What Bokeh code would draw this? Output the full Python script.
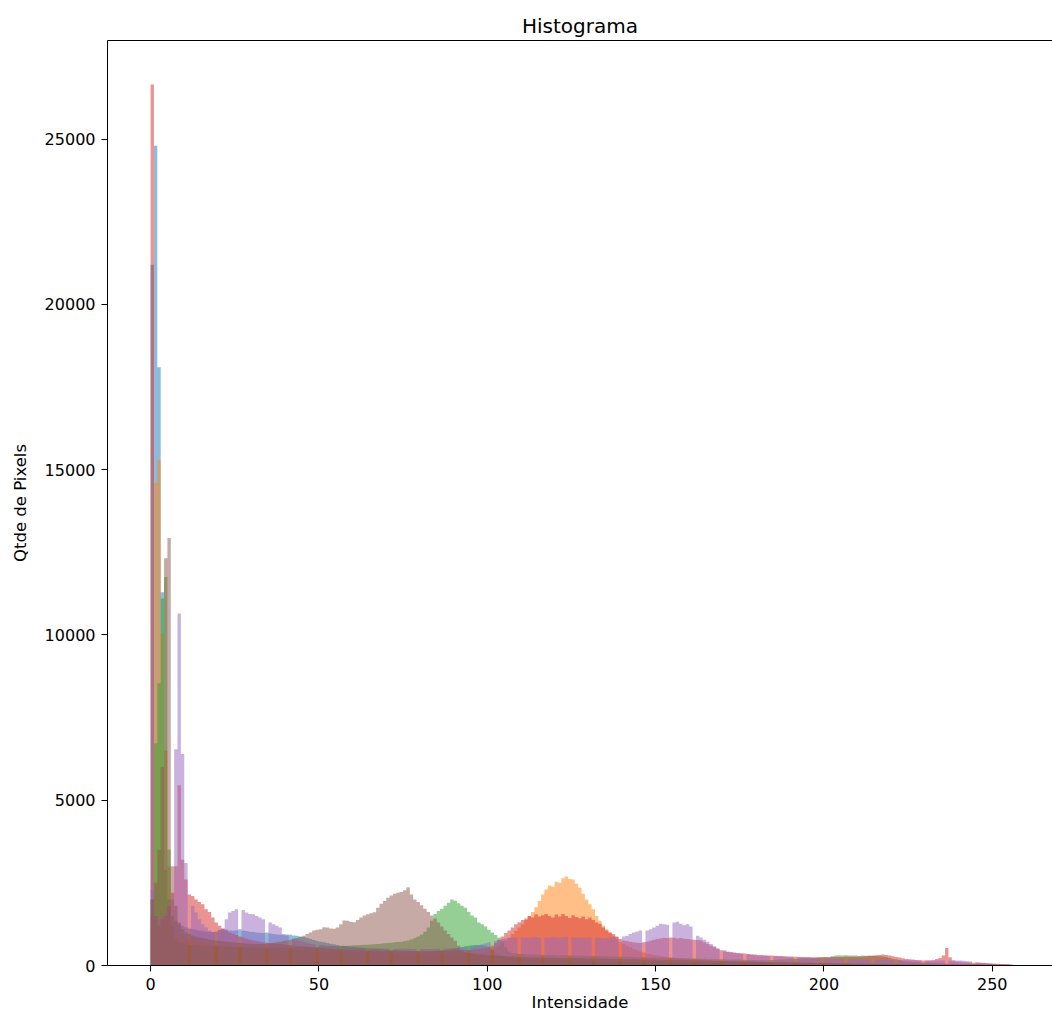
from bokeh.plotting import figure
from bokeh.models import FixedTicker, LinearAxis, Range1d, ColumnDataSource
from bokeh.embed import file_html
from bokeh.resources import INLINE

# ---------------- data (counts per intensity bin 0..255) ----------------
blue = [
    21200, 24800, 18100, 11290, 2900, 2000, 1500, 1350, 1250, 1200, 1160, 1120, 1100, 1080, 1060, 1040,
    1030, 1020, 1010, 1030, 1080, 1110, 1090, 1060, 1050, 1070, 1100, 1060, 1040, 1020, 1010, 1000,
    990, 980, 1000, 970, 950, 940, 930, 920, 940, 930, 910, 900, 880, 860, 830, 800,
    770, 740, 720, 700, 680, 660, 640, 620, 600, 590, 580, 570, 560, 550, 540, 530,
    520, 510, 500, 500, 490, 480, 480, 470, 470, 460, 460, 450, 450, 440, 440, 430,
    430, 420, 420, 430, 440, 450, 460, 470, 480, 500, 520, 540, 560, 580, 600, 610,
    620, 610, 620, 600, 560, 480, 400, 350, 300, 270, 250, 240, 230, 220, 210, 200,
    200, 190, 190, 180, 180, 175, 170, 170, 165, 160, 160, 155, 150, 150, 150, 145,
    140, 140, 140, 135, 130, 130, 130, 125, 120, 120, 120, 118, 115, 112, 110, 110,
    108, 105, 105, 102, 100, 100, 98, 96, 95, 94, 92, 90, 90, 88, 86, 85,
    84, 82, 80, 80, 78, 76, 75, 74, 72, 70, 70, 68, 66, 65, 64, 62,
    60, 60, 58, 57, 56, 55, 54, 53, 52, 50, 50, 49, 48, 47, 46, 45,
    45, 44, 43, 42, 42, 41, 40, 40, 39, 38, 38, 37, 36, 36, 35, 35,
    34, 34, 33, 33, 32, 32, 31, 31, 30, 30, 30, 29, 29, 28, 28, 28,
    27, 27, 26, 26, 26, 25, 25, 25, 24, 24, 24, 23, 23, 22, 22, 22,
    21, 21, 20, 20, 20, 19, 19, 18, 18, 18, 17, 17, 16, 16, 15, 15,
]
orange = [
    1500, 14600, 15300, 10050, 6500, 3000, 1200, 900, 850, 800, 780, 760, 740, 720, 700, 680,
    660, 640, 630, 610, 600, 590, 580, 570, 560, 550, 540, 530, 520, 510, 505, 500,
    495, 490, 485, 480, 475, 470, 465, 460, 455, 450, 448, 445, 440, 438, 435, 430,
    428, 425, 420, 418, 415, 412, 410, 408, 405, 402, 400, 398, 396, 394, 392, 390,
    388, 386, 384, 382, 380, 378, 376, 375, 374, 372, 370, 368, 366, 365, 364, 362,
    360, 360, 358, 358, 356, 356, 355, 355, 356, 358, 360, 362, 365, 368, 372, 376,
    380, 390, 400, 420, 450, 490, 540, 600, 680, 760, 850, 950, 1050, 1150, 1250, 1380,
    1500, 1620, 1760, 1950, 2150, 2300, 2420, 2380, 2530, 2500, 2640, 2690, 2620, 2600, 2470, 2350,
    2170, 2000, 1850, 1700, 1500, 1350, 1200, 1100, 1000, 900, 800, 720, 650, 600, 550, 500,
    460, 420, 390, 360, 340, 320, 300, 285, 270, 260, 250, 240, 230, 220, 212, 205,
    198, 190, 184, 178, 172, 166, 160, 155, 150, 145, 140, 136, 132, 128, 124, 120,
    117, 114, 111, 108, 105, 102, 100, 98, 96, 94, 92, 90, 88, 86, 84, 82,
    80, 79, 78, 77, 76, 75, 74, 73, 72, 71, 70, 69, 68, 67, 66, 65,
    64, 63, 62, 61, 60, 60, 59, 58, 57, 56, 56, 55, 54, 53, 53, 52,
    51, 50, 50, 49, 48, 48, 47, 46, 46, 45, 44, 44, 43, 43, 42, 42,
    41, 41, 40, 40, 39, 39, 38, 60, 38, 37, 37, 36, 36, 35, 35, 34,
]
green = [
    2000, 6720, 8540, 11100, 11750, 3500, 1200, 800, 720, 680, 650, 630, 620, 610, 600, 600,
    590, 590, 580, 580, 575, 570, 570, 565, 560, 560, 560, 555, 555, 550, 550, 550,
    548, 546, 545, 544, 543, 542, 541, 540, 540, 540, 542, 544, 546, 548, 550, 552,
    555, 558, 560, 565, 570, 575, 580, 585, 590, 595, 600, 605, 610, 615, 620, 625,
    630, 635, 640, 650, 660, 670, 680, 690, 700, 710, 720, 740, 760, 790, 830, 880,
    940, 1020, 1150, 1350, 1560, 1650, 1720, 1810, 1900, 2000, 1960, 1880, 1810, 1750, 1620, 1510,
    1450, 1300, 1250, 1180, 1080, 1000, 920, 850, 750, 550, 420, 380, 360, 350, 345, 340,
    335, 330, 330, 325, 320, 320, 318, 315, 312, 310, 308, 305, 302, 300, 298, 295,
    292, 290, 288, 285, 282, 280, 278, 275, 272, 270, 268, 265, 262, 260, 258, 255,
    252, 250, 248, 245, 242, 240, 238, 235, 232, 230, 228, 225, 222, 220, 218, 215,
    212, 210, 208, 205, 202, 200, 198, 195, 192, 190, 188, 185, 182, 180, 178, 175,
    172, 170, 168, 165, 162, 160, 160, 162, 165, 170, 175, 180, 185, 190, 195, 200,
    205, 210, 215, 220, 225, 230, 240, 250, 260, 250, 280, 300, 310, 300, 310, 300,
    300, 305, 290, 300, 295, 300, 290, 290, 280, 270, 260, 230, 200, 180, 160, 140,
    120, 110, 100, 95, 90, 85, 80, 75, 70, 65, 60, 58, 56, 54, 52, 50,
    48, 46, 44, 42, 40, 38, 36, 34, 32, 30, 28, 26, 24, 22, 20, 18,
]
red = [
    26650, 1500, 1200, 1400, 1500, 1800, 2200, 3000, 5450, 3200, 2600, 2150, 2100, 2000, 1920, 1850,
    1700, 1620, 1450, 1300, 1200, 1120, 1060, 1000, 960, 920, 880, 850, 820, 790, 760, 740,
    720, 700, 690, 680, 670, 660, 650, 640, 630, 620, 610, 600, 590, 580, 570, 560,
    550, 540, 530, 520, 510, 500, 495, 490, 485, 480, 475, 470, 465, 460, 455, 450,
    448, 446, 444, 442, 440, 438, 436, 434, 432, 430, 430, 430, 430, 430, 430, 430,
    430, 432, 434, 436, 438, 440, 442, 444, 446, 448, 450, 455, 460, 465, 470, 480,
    490, 500, 520, 540, 560, 600, 680, 780, 880, 980, 1060, 1150, 1250, 1310, 1380, 1420,
    1500, 1450, 1550, 1480, 1520, 1560, 1500, 1450, 1540, 1480, 1560, 1500, 1440, 1520, 1470, 1430,
    1480, 1400, 1450, 1380, 1300, 1260, 1150, 1060, 1000, 950, 880, 800, 760, 740, 720, 700,
    690, 680, 700, 720, 750, 780, 800, 820, 840, 830, 850, 840, 820, 830, 810, 800,
    790, 780, 770, 760, 700, 650, 600, 550, 500, 460, 430, 410, 400, 390, 380, 370,
    360, 350, 340, 330, 320, 315, 310, 305, 300, 295, 290, 285, 280, 275, 270, 265,
    260, 258, 256, 254, 252, 250, 250, 250, 250, 252, 254, 256, 258, 260, 262, 264,
    266, 268, 270, 275, 280, 290, 300, 310, 320, 330, 320, 300, 280, 260, 240, 220,
    200, 190, 180, 170, 160, 150, 150, 150, 160, 200, 230, 300, 530, 250, 150, 120,
    110, 100, 95, 90, 85, 80, 75, 70, 65, 60, 55, 50, 45, 40, 35, 30,
]
purple = [
    2300, 1500, 1400, 1500, 1600, 1800, 2000, 6540, 10650, 6400, 3100, 0, 1800, 1600, 1400, 1250,
    1150, 1050, 1000, 0, 1000, 1100, 1400, 1600, 1650, 1700, 0, 1680, 1600, 1560, 1550, 1500,
    1450, 1400, 0, 1300, 1250, 1200, 1150, 950, 900, 0, 820, 780, 740, 700, 680, 660,
    640, 0, 620, 610, 600, 590, 580, 570, 0, 560, 555, 550, 545, 540, 535, 530,
    0, 525, 520, 518, 515, 512, 510, 0, 508, 506, 505, 504, 503, 502, 501, 0,
    500, 500, 500, 502, 504, 506, 0, 510, 515, 520, 525, 530, 540, 550, 0, 570,
    590, 610, 640, 670, 700, 0, 740, 770, 800, 820, 830, 840, 850, 0, 850, 850,
    840, 850, 860, 850, 0, 840, 850, 860, 850, 840, 850, 860, 0, 850, 840, 850,
    840, 830, 850, 0, 840, 830, 820, 830, 840, 850, 860, 0, 880, 900, 950, 1000,
    1030, 1060, 0, 1060, 1100, 1150, 1200, 1260, 1250, 1230, 0, 1300, 1320, 1260, 1220, 1250,
    1180, 0, 900, 850, 780, 720, 650, 580, 520, 0, 460, 420, 400, 380, 360, 350,
    0, 330, 320, 310, 300, 295, 290, 285, 0, 275, 270, 265, 260, 255, 250, 0,
    245, 240, 235, 230, 225, 220, 215, 0, 210, 205, 200, 198, 196, 194, 0, 190,
    188, 186, 184, 182, 180, 178, 0, 176, 174, 172, 170, 168, 166, 0, 164, 162,
    160, 158, 156, 154, 152, 0, 150, 150, 150, 150, 150, 150, 0, 150, 150, 150,
    150, 140, 130, 120, 0, 100, 90, 80, 70, 60, 50, 0, 40, 30, 20, 10,
]
brown = [
    2000, 2500, 3500, 6000, 12320, 12930, 3000, 1800, 1300, 1100, 1000, 950, 900, 870, 850, 830,
    810, 790, 770, 750, 740, 730, 720, 710, 700, 690, 680, 670, 660, 660, 650, 650,
    650, 650, 660, 670, 680, 700, 720, 740, 760, 780, 800, 830, 860, 900, 950, 1000,
    1060, 1080, 1100, 1160, 1150, 1120, 1110, 1150, 1250, 1360, 1350, 1320, 1310, 1380, 1450, 1510,
    1550, 1580, 1610, 1750, 1870, 1950, 2050, 2120, 2170, 2200, 2220, 2280, 2370, 2150, 2000, 1920,
    1820, 1720, 1620, 1510, 1420, 1300, 1180, 1060, 950, 850, 750, 600, 460, 400, 380, 360,
    350, 340, 330, 320, 310, 300, 295, 290, 285, 280, 275, 270, 265, 260, 255, 250,
    248, 246, 244, 242, 240, 238, 236, 234, 232, 230, 228, 226, 224, 222, 220, 218,
    216, 214, 212, 210, 208, 206, 204, 202, 200, 198, 196, 194, 192, 190, 188, 186,
    184, 182, 180, 178, 176, 174, 172, 170, 168, 166, 164, 162, 160, 158, 156, 154,
    152, 150, 148, 146, 144, 142, 140, 138, 136, 134, 132, 130, 128, 126, 124, 122,
    120, 118, 116, 114, 112, 110, 108, 106, 104, 102, 100, 98, 96, 94, 92, 90,
    88, 86, 84, 82, 80, 78, 76, 74, 72, 70, 68, 66, 64, 62, 60, 58,
    56, 54, 52, 50, 48, 46, 44, 42, 40, 38, 36, 34, 32, 30, 28, 26,
    25, 24, 23, 22, 21, 20, 19, 18, 17, 16, 15, 14, 13, 12, 11, 10,
    10, 9, 9, 8, 8, 7, 7, 6, 6, 5, 5, 4, 4, 3, 3, 2,
]

series = [blue, orange, green, red, purple, brown]
colors = ["#1f77b4", "#ff7f0e", "#2ca02c", "#d62728", "#9467bd", "#8c564b"]

x_ticks = [0, 50, 100, 150, 200, 250]
y_ticks = [0, 5000, 10000, 15000, 20000, 25000]

title_text = "Histograma"
x_label = "Intensidade"
y_label = "Qtde de Pixels"

FONT = "DejaVu Sans"

# ---------------- figure ----------------
n_bins = len(blue)
edges = list(range(n_bins + 1))
y_max = max(max(s) for s in series) * 1.05
x_lo = -0.05 * n_bins
x_hi = x_lo + 280.7

p = figure(width=1052, height=1016, output_backend="svg", toolbar_location=None,
           x_range=Range1d(x_lo, x_hi), y_range=Range1d(0, y_max),
           min_border_left=107, min_border_right=0, min_border_top=40, min_border_bottom=51,
           title=title_text)

for s, c in zip(series, colors):
    src = ColumnDataSource(dict(x=edges, y1=[0] * (n_bins + 1), y2=s + [s[-1]]))
    p.varea_step(x="x", y1="y1", y2="y2", step_mode="after", source=src,
                 fill_color=c, fill_alpha=0.5)

p.xgrid.visible = False
p.ygrid.visible = False
p.outline_line_color = None
p.background_fill_color = "white"
p.border_fill_color = "white"

p.title.align = "center"
p.title.text_font = FONT
p.title.text_font_size = "20px"
p.title.text_font_style = "normal"
p.title.text_color = "black"
p.title.standoff = 6

p.xaxis.ticker = FixedTicker(ticks=x_ticks)
p.yaxis.ticker = FixedTicker(ticks=y_ticks)
for ax in (p.xaxis[0], p.yaxis[0]):
    ax.axis_line_color = "black"
    ax.axis_line_width = 1
    ax.major_tick_line_color = "black"
    ax.major_tick_out = 6
    ax.major_tick_in = 0
    ax.minor_tick_line_color = None
    ax.major_label_text_font = FONT
    ax.major_label_text_font_size = "16px"
    ax.major_label_text_color = "black"
    ax.major_label_standoff = 6
    ax.axis_label_text_font = FONT
    ax.axis_label_text_font_size = "16.5px"
    ax.axis_label_text_font_style = "normal"
    ax.axis_label_text_color = "black"

p.yaxis.axis_label = y_label
p.yaxis.axis_label_standoff = 12
p.xaxis.axis_label = x_label
p.xaxis.axis_label_standoff = 0

top_axis = LinearAxis(ticker=FixedTicker(ticks=[]), axis_line_color="black",
                      major_tick_line_color=None, minor_tick_line_color=None,
                      major_label_text_font_size="0px")
p.add_layout(top_axis, "above")

open("out.html", "w").write(file_html(p, INLINE))
